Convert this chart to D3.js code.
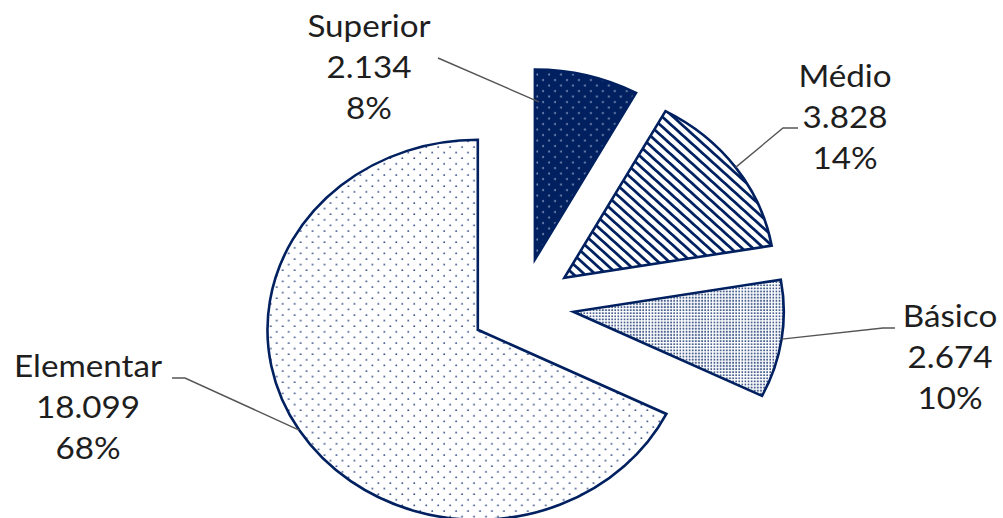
<!DOCTYPE html>
<html>
<head>
<meta charset="utf-8">
<script src="https://cdn.jsdelivr.net/npm/d3@7"></script>
<style>
  html, body { margin: 0; padding: 0; background: #ffffff; }
  svg { display: block; }
  text { font-family: Lato, "Open Sans", sans-serif; fill: #1e1e1e; }
</style>
</head>
<body>
<svg id="chart" width="1003" height="518"></svg>
<script>
// Escolaridade: categorias, valores e padrões de preenchimento
const categories = ["Superior", "Médio", "Básico", "Elementar"];
const values = [2134, 3828, 2674, 18099];
const fillPatterns = ["pSuperior", "pMedio", "pBasico", "pElementar"];

// Layout (screen pixels)
const W = 1003, H = 518;
const sx = 1.107;            // horizontal stretch of the whole drawing
const centerX = 522, centerY = 305;
const radius = 190;
const explode = 47;
const navy = "#002060";
const lineGap = 41;

// Label anchors: centre x, first baseline y, elbow and leader end on the slice
const labelLayout = [
  { x: 369, y: 37,  start: [438, 58],  elbow: null,       endAngle: 0.045, endR: 0.83 },
  { x: 845, y: 87,  start: [798, 128], elbow: [783, 128], endAngle: 0.5,   endR: 1.0 },
  { x: 950, y: 327, start: [895, 328], elbow: [883, 328], endAngle: 0.5,   endR: 1.0 },
  { x: 88,  y: 377, start: [172, 378], elbow: [185, 378], endAngle: 0.5,   endR: 1.0 }
];

const total = d3.sum(values);
const ptBR = d3.formatLocale({ decimal: ",", thousands: ".", grouping: [3], currency: ["R$", ""] });
const fmtNum = ptBR.format(",d");

const svg = d3.select("#chart");
const defs = svg.append("defs");

// Superior: navy with small white dots
const pS = defs.append("pattern").attr("id", "pSuperior")
  .attr("patternUnits", "userSpaceOnUse").attr("width", 10.8).attr("height", 11);
pS.append("rect").attr("width", 10.8).attr("height", 11).attr("fill", navy);
pS.append("circle").attr("cx", 2).attr("cy", 2).attr("r", 0.85).attr("fill", "#b8c4e0");
pS.append("circle").attr("cx", 7.4).attr("cy", 7.5).attr("r", 0.85).attr("fill", "#b8c4e0");

// Médio: wide downward diagonal stripes
const pM = defs.append("pattern").attr("id", "pMedio")
  .attr("patternUnits", "userSpaceOnUse").attr("width", 7).attr("height", 10)
  .attr("patternTransform", "rotate(-45)");
pM.append("rect").attr("width", 7).attr("height", 10).attr("fill", "#ffffff");
pM.append("rect").attr("width", 2.6).attr("height", 10).attr("fill", navy);

// Básico: dense fine grid of navy dots
const pB = defs.append("pattern").attr("id", "pBasico")
  .attr("patternUnits", "userSpaceOnUse").attr("width", 2.8).attr("height", 3.1);
pB.append("rect").attr("width", 2.8).attr("height", 3.1).attr("fill", "#ffffff");
pB.append("rect").attr("x", 0.5).attr("y", 0.5).attr("width", 1.6).attr("height", 1.8)
  .attr("fill", navy).attr("fill-opacity", 0.72);

// Elementar: white with sparse navy dots
const pE = defs.append("pattern").attr("id", "pElementar")
  .attr("patternUnits", "userSpaceOnUse").attr("width", 10.8).attr("height", 11.2);
pE.append("rect").attr("width", 10.8).attr("height", 11.2).attr("fill", "#ffffff");
pE.append("circle").attr("cx", 2).attr("cy", 2).attr("r", 0.85).attr("fill", "#2b4680");
pE.append("circle").attr("cx", 7.4).attr("cy", 7.6).attr("r", 0.85).attr("fill", "#2b4680");

const pie = d3.pie().sort(null).value(d => d)(values);
const arc = d3.arc().innerRadius(0).outerRadius(radius);

const offsetOf = d => {
  const mid = (d.startAngle + d.endAngle) / 2;
  return [explode * Math.sin(mid), -explode * Math.cos(mid)];
};

const plot = svg.append("g")
  .attr("transform", `scale(${sx},1) translate(${centerX / sx},${centerY})`);

plot.selectAll("path.slice")
  .data(pie)
  .join("path")
  .attr("class", "slice")
  .attr("transform", d => `translate(${offsetOf(d)})`)
  .attr("d", arc)
  .attr("fill", (d, i) => `url(#${fillPatterns[i]})`)
  .attr("stroke", navy)
  .attr("stroke-width", 2.6)
  .attr("stroke-linejoin", "miter")
  .attr("vector-effect", "non-scaling-stroke");

// Leader lines (screen space)
const toScreen = (d, L) => {
  const [ox, oy] = offsetOf(d);
  const a = d.startAngle + (d.endAngle - d.startAngle) * L.endAngle;
  const rr = radius * L.endR;
  return [centerX + (ox + rr * Math.sin(a)) * sx, centerY + oy - rr * Math.cos(a)];
};

const leaders = svg.append("g");
pie.forEach((d, i) => {
  const L = labelLayout[i];
  const pts = [L.start];
  if (L.elbow) pts.push(L.elbow);
  pts.push(toScreen(d, L));
  leaders.append("path")
    .attr("d", d3.line()(pts))
    .attr("fill", "none")
    .attr("stroke", "#555555")
    .attr("stroke-width", 1.4);
});

// Data labels: name, value, percentage
const labels = svg.append("g");
pie.forEach((d, i) => {
  const L = labelLayout[i];
  const lines = [categories[i], fmtNum(values[i]), Math.round(values[i] / total * 100) + "%"];
  const g = labels.append("g").attr("transform", `translate(${L.x},${L.y}) scale(${sx},1)`);
  lines.forEach((t, k) => {
    g.append("text")
      .attr("x", 0).attr("y", k * lineGap)
      .attr("text-anchor", "middle")
      .attr("font-size", 30)
      .text(t);
  });
});
</script>
</body>
</html>
